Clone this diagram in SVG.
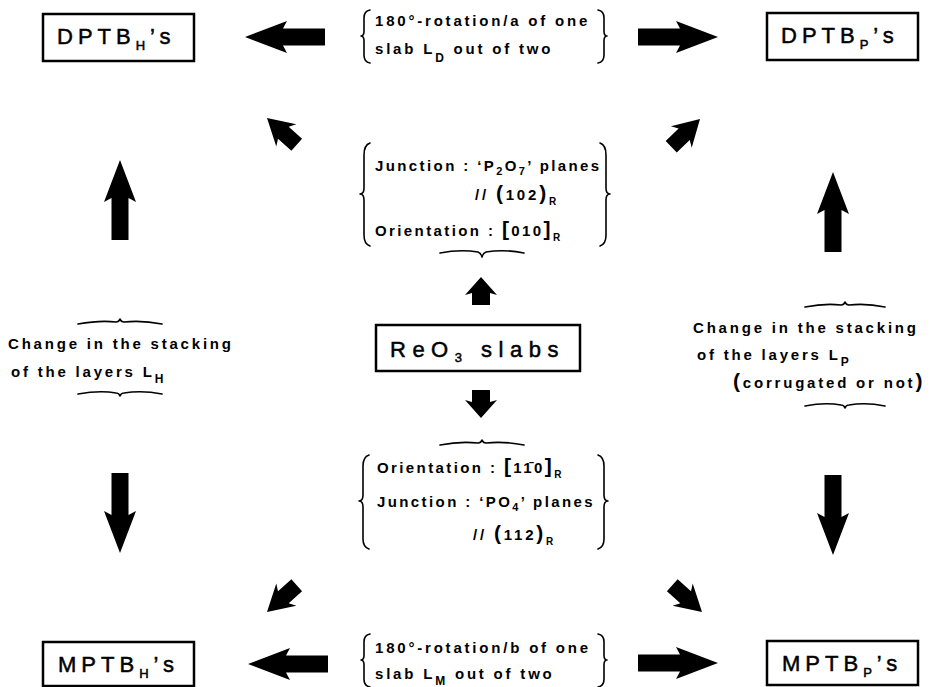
<svg xmlns="http://www.w3.org/2000/svg" width="952" height="687" viewBox="0 0 952 687">
<style>
.box{fill:#fff;stroke:#000;stroke-width:2.5}
.bt{font-family:"Liberation Sans",Arial,sans-serif;font-size:22px;fill:#000;stroke:#000;stroke-width:0.5;letter-spacing:5px}
.t{font-family:"Liberation Sans",Arial,sans-serif;font-weight:bold;font-size:15px;fill:#000;letter-spacing:2.8px}
.m{letter-spacing:2.4px}
.br{fill:none;stroke:#000;stroke-width:1.6;stroke-linecap:round;stroke-linejoin:round}
.arr{fill:#000}
</style>
<defs>
<path id="aBig" d="M0,0 L-42,-16 L-38,-8.5 L-80,-8.5 L-80,8.5 L-38,8.5 L-42,16 Z"/>
<path id="aSmall" d="M0,0 L-18,-16 L-16,-9 L-28,-9 L-28,9 L-16,9 L-18,16 Z"/>
<path id="aDiag" d="M0,0 L-26,-15 L-22,-8 L-40,-8 L-40,8 L-22,8 L-26,15 Z"/>
</defs>

<g id="connectors">
<use href="#aBig" class="arr" transform="translate(245,37) rotate(180)"/>
<use href="#aBig" class="arr" transform="translate(718,37)"/>
<use href="#aBig" class="arr" transform="translate(248,664) rotate(180)"/>
<use href="#aBig" class="arr" transform="translate(718,663)"/>
<use href="#aBig" class="arr" transform="translate(120,160) rotate(-90)"/>
<use href="#aBig" class="arr" transform="translate(833,172) rotate(-90)"/>
<use href="#aBig" class="arr" transform="translate(120,553) rotate(90)"/>
<use href="#aBig" class="arr" transform="translate(833,555) rotate(90)"/>
<use href="#aSmall" class="arr" transform="translate(481,277) rotate(-90)"/>
<use href="#aSmall" class="arr" transform="translate(481,418) rotate(90)"/>
<use href="#aDiag" class="arr" transform="translate(267,118) rotate(-138)"/>
<use href="#aDiag" class="arr" transform="translate(700,119) rotate(-44)"/>
<use href="#aDiag" class="arr" transform="translate(267,612) rotate(138)"/>
<use href="#aDiag" class="arr" transform="translate(702,612) rotate(42)"/>
</g>

<g id="dptb-h">
<rect class="box" x="43" y="14" width="151" height="47"/>
<text class="bt" x="57" y="44">DPTB<tspan font-size="13" dy="6">H</tspan><tspan dy="-6">’s</tspan></text>
</g>
<g id="dptb-p">
<rect class="box" x="767" y="13" width="151" height="47"/>
<text class="bt" x="781" y="43">DPTB<tspan font-size="13" dy="6">P</tspan><tspan dy="-6">’s</tspan></text>
</g>
<g id="mptb-h">
<rect class="box" x="43" y="642" width="151" height="44"/>
<text class="bt" x="58" y="672">MPTB<tspan font-size="13" dy="6">H</tspan><tspan dy="-6">’s</tspan></text>
</g>
<g id="mptb-p">
<rect class="box" x="767" y="641" width="151" height="44"/>
<text class="bt" x="782" y="671">MPTB<tspan font-size="13" dy="6">P</tspan><tspan dy="-6">’s</tspan></text>
</g>
<g id="reo3">
<rect class="box" x="376" y="325" width="204" height="46"/>
<text class="bt" x="390" y="357" style="letter-spacing:6.5px">ReO<tspan font-size="13" dy="5">3</tspan><tspan dy="-5"> slabs</tspan></text>
</g>

<g id="top-label">
<path class="br" d="M370,10 Q364,11 364,18 L364,31 Q364,36 361,36 Q364,36 364,41 L364,55 Q364,62 370,63"/>
<path class="br" d="M598,10 Q604,11 604,18 L604,31 Q604,36 607,36 Q604,36 604,41 L604,55 Q604,62 598,63"/>
<text class="t" x="375" y="26">180°-rotation/a of one</text>
<text class="t" x="375" y="54">slab L<tspan font-size="12" dy="8">D</tspan><tspan dy="-8"> out of two</tspan></text>
</g>

<g id="upper-label">
<path class="br" d="M370,143 Q364,145 364,155 L364,188 Q364,194 360,194 Q364,194 364,200 L364,235 Q364,244 370,246"/>
<path class="br" d="M600,143 Q606,145 606,155 L606,188 Q606,194 610,194 Q606,194 606,200 L606,235 Q606,244 600,246"/>
<text class="t m" x="375" y="171">Junction : ‘P<tspan font-size="11" dy="4">2</tspan><tspan dy="-4">O</tspan><tspan font-size="11" dy="4">7</tspan><tspan dy="-4">’ planes</tspan></text>
<text class="t" x="475" y="200">// <tspan font-size="21">(</tspan>102<tspan font-size="21">)</tspan><tspan font-size="10" dy="5">R</tspan></text>
<text class="t m" x="375" y="236">Orientation : <tspan font-size="21">[</tspan>010<tspan font-size="21">]</tspan><tspan font-size="10" dy="5">R</tspan></text>
<path class="br" d="M440,253 Q460,249 478,252 Q481,253 482,257 Q483,253 486,252 Q504,249 524,253"/>
</g>

<g id="lower-label">
<path class="br" d="M440,445 Q460,441 478,443 Q481,443 482,440 Q483,443 486,443 Q504,441 524,445"/>
<path class="br" d="M369,455 Q363,457 363,466 L363,495 Q363,501 359,501 Q363,501 363,507 L363,539 Q363,547 369,549"/>
<path class="br" d="M598,455 Q604,457 604,466 L604,495 Q604,501 608,501 Q604,501 604,507 L604,539 Q604,547 598,549"/>
<text class="t m" x="377" y="473">Orientation : <tspan font-size="21">[</tspan>11̄0<tspan font-size="21">]</tspan><tspan font-size="10" dy="5">R</tspan></text>
<text class="t m" x="377" y="507">Junction : ‘PO<tspan font-size="11" dy="4">4</tspan><tspan dy="-4">’ planes</tspan></text>
<text class="t" x="473" y="540">// <tspan font-size="21">(</tspan>112<tspan font-size="21">)</tspan><tspan font-size="10" dy="5">R</tspan></text>
</g>

<g id="bottom-label">
<path class="br" d="M370,634 Q364,635 364,642 L364,655 Q364,660 361,660 Q364,660 364,665 L364,679 Q364,686 370,687"/>
<path class="br" d="M598,634 Q604,635 604,642 L604,655 Q604,660 607,660 Q604,660 604,665 L604,679 Q604,686 598,687"/>
<text class="t" x="375" y="653">180°-rotation/b of one</text>
<text class="t" x="375" y="679">slab L<tspan font-size="12" dy="6">M</tspan><tspan dy="-6"> out of two</tspan></text>
</g>

<g id="left-label">
<path class="br" d="M78,324 Q100,320 116,322 Q119,322 120,319 Q121,322 124,322 Q142,320 162,324"/>
<text class="t" x="8" y="349">Change in the stacking</text>
<text class="t" x="11" y="377">of the layers L<tspan font-size="12" dy="6">H</tspan></text>
<path class="br" d="M78,394 Q100,390 116,393 Q119,393 120,396 Q121,393 124,393 Q142,390 162,394"/>
</g>

<g id="right-label">
<path class="br" d="M805,307 Q825,303 841,305 Q844,305 845,302 Q846,305 849,305 Q866,303 885,307"/>
<text class="t" x="693" y="333">Change in the stacking</text>
<text class="t" x="697" y="360">of the layers L<tspan font-size="12" dy="6">P</tspan></text>
<text class="t" x="733" y="388"><tspan font-size="21">(</tspan>corrugated or not<tspan font-size="21">)</tspan></text>
<path class="br" d="M805,406 Q825,402 841,405 Q844,405 845,408 Q846,405 849,405 Q866,402 885,406"/>
</g>
</svg>
